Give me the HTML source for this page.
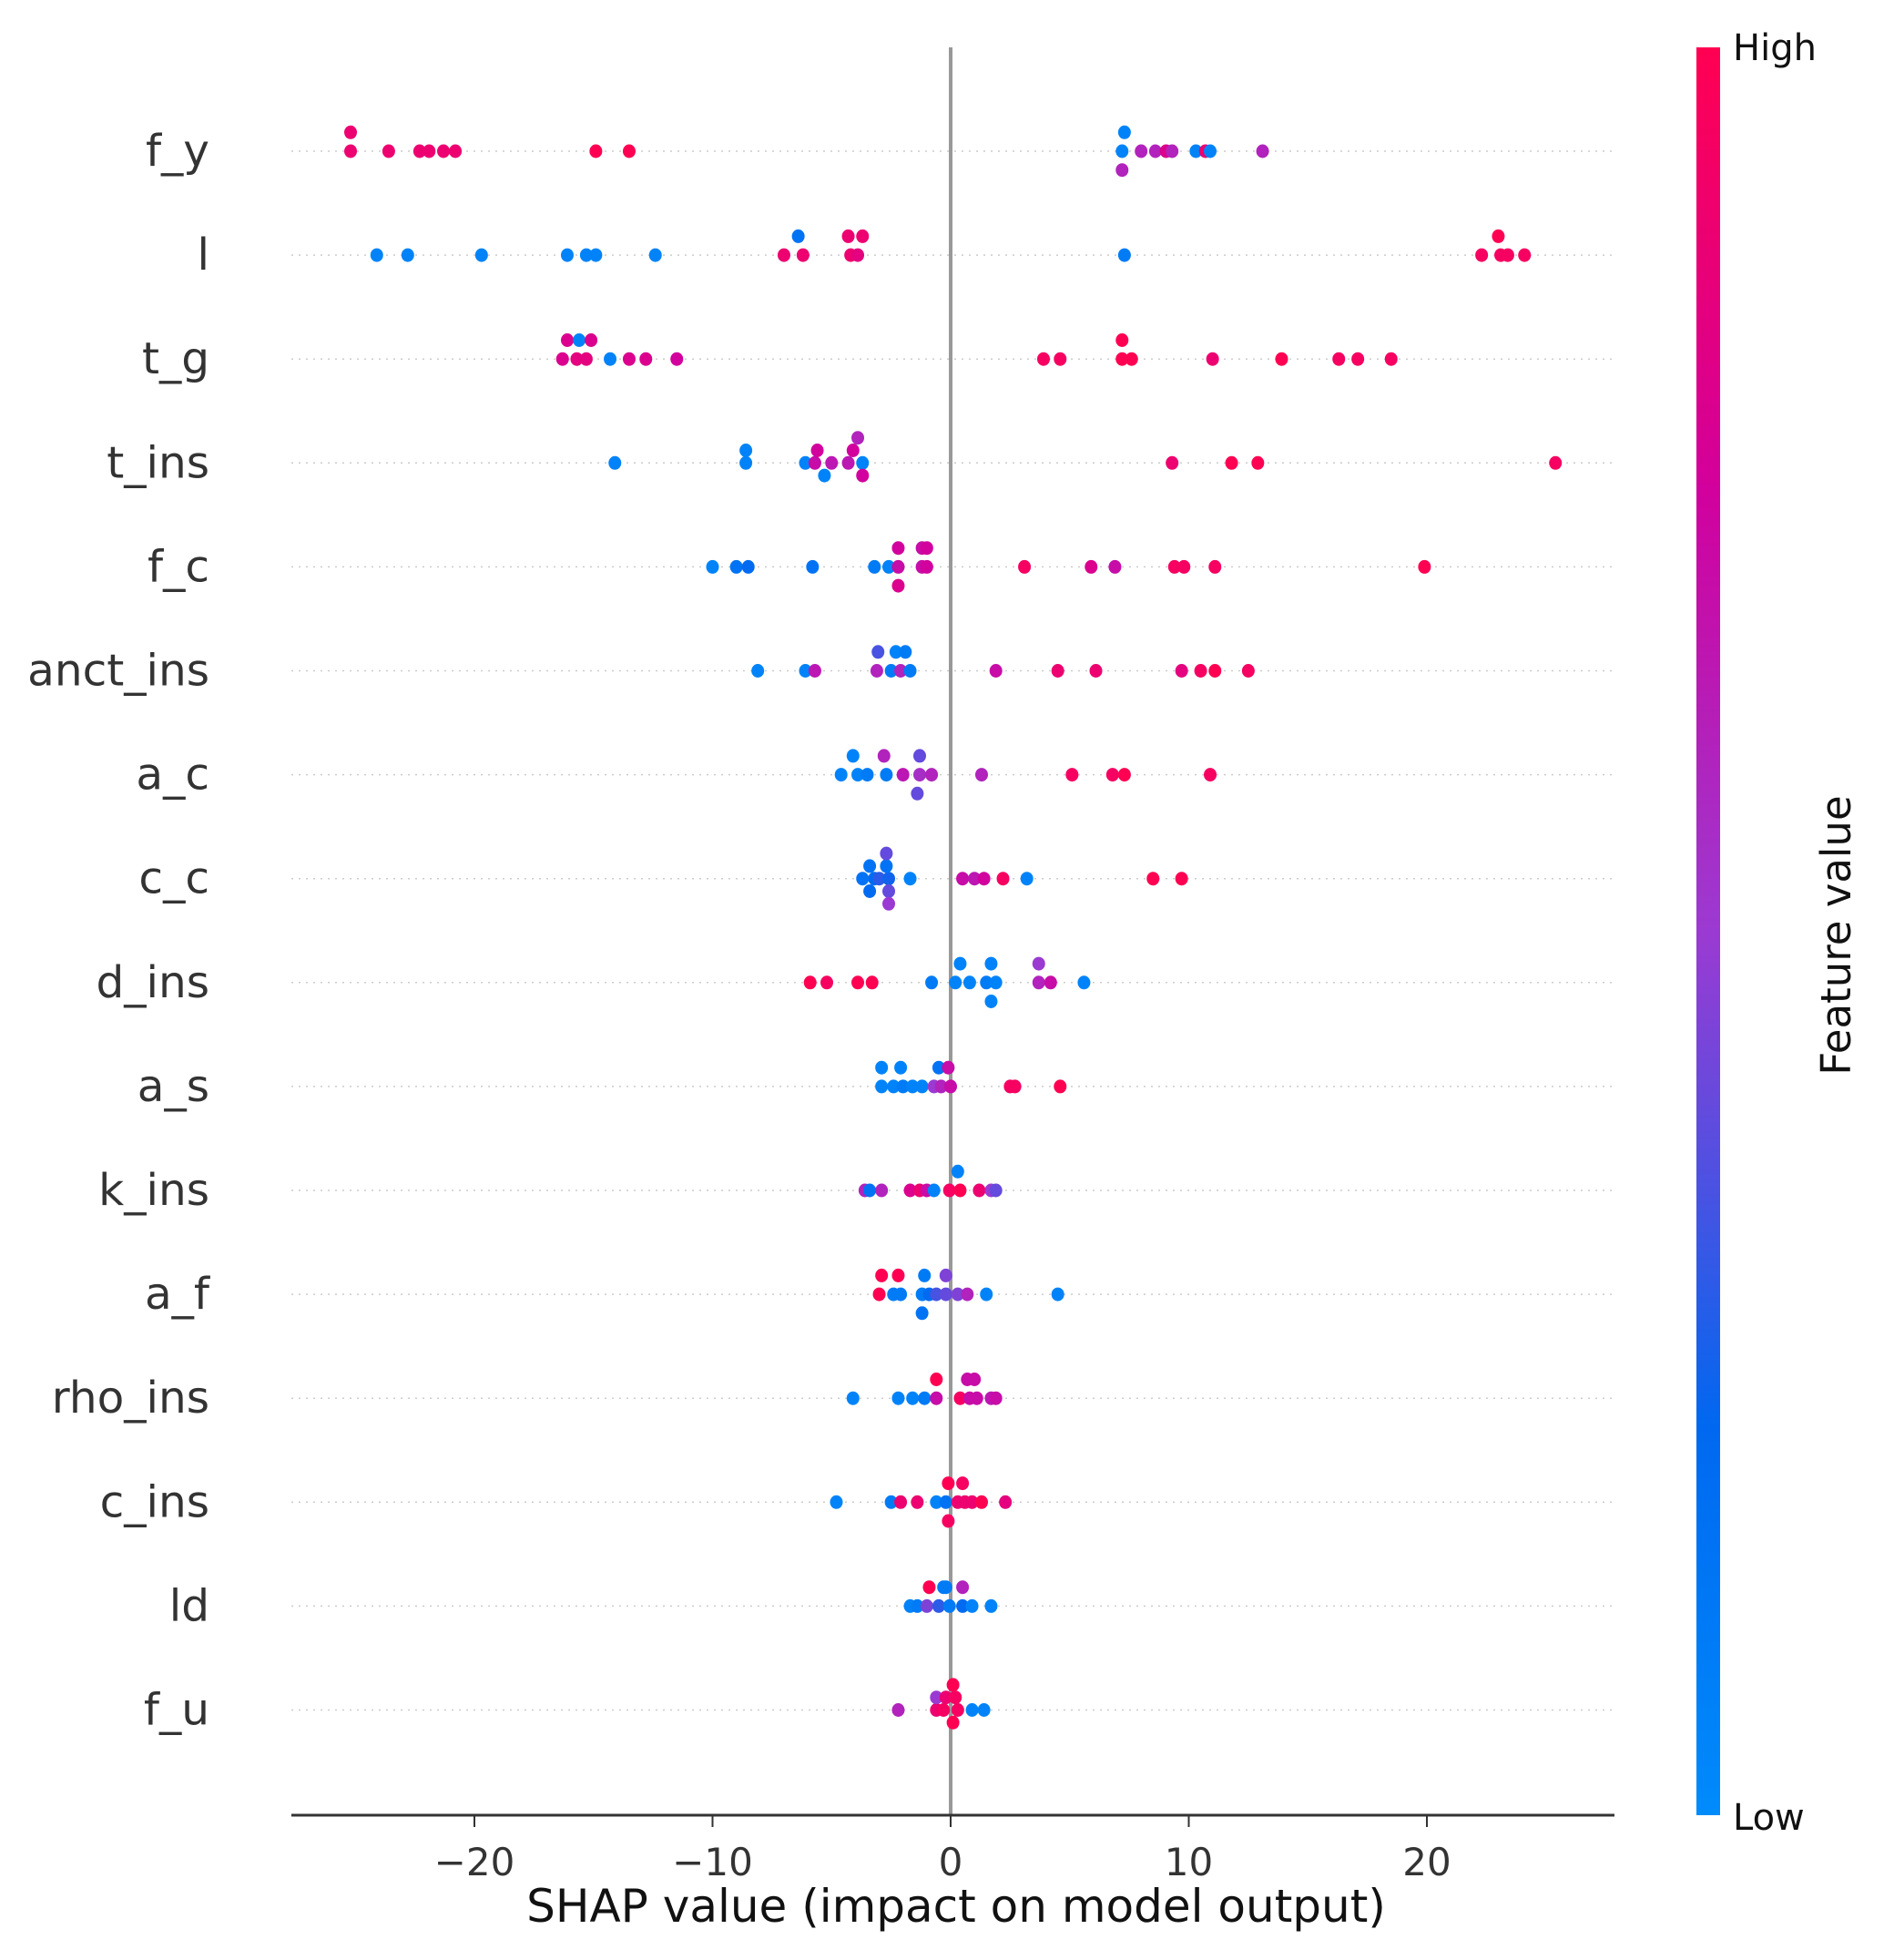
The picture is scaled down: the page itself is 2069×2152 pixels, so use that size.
<!DOCTYPE html>
<html><head><meta charset="utf-8"><style>
html,body{margin:0;padding:0;background:#fff;}
svg{display:block;font-family:"DejaVu Sans","Liberation Sans",sans-serif;}
</style></head><body>
<svg id="chart" width="2069" height="2152" viewBox="0 0 2069 2152">
<defs><linearGradient id="cb" x1="0" y1="1" x2="0" y2="0">
<stop offset="0" stop-color="#008bfb"/><stop offset="0.22" stop-color="#0068f0"/><stop offset="0.5" stop-color="#9b3ad2"/><stop offset="0.75" stop-color="#d2009c"/><stop offset="1" stop-color="#ff0052"/></linearGradient></defs>
<g id="grid"></g>
<line x1="1044" y1="52" x2="1044" y2="1993" stroke="#999" stroke-width="4"/>
<g id="dots"></g>
<g id="labels"></g>
<line x1="320" y1="1993" x2="1773" y2="1993" stroke="#333" stroke-width="3"/>
<g id="xticks"></g>
<text x="1050" y="2110" font-size="50" text-anchor="middle" fill="#111">SHAP value (impact on model output)</text>
<rect x="1863" y="52" width="26" height="1941" fill="url(#cb)"/>
<text x="1903" y="66" font-size="40" fill="#111">High</text>
<text x="1903" y="2009" font-size="40" fill="#111">Low</text>
<text x="0" y="0" font-size="45" fill="#111" text-anchor="middle" transform="translate(2032,1027) rotate(-90)">Feature value</text>
</svg>
<script>
const features = ["f_y","l","t_g","t_ins","f_c","anct_ins","a_c","c_c","d_ins","a_s","k_ins","a_f","rho_ins","c_ins","ld","f_u"];
const xTicks = [-20,-10,0,10,20];
// points per feature: [shap value, stack level, feature value 0..1]
const pts_f_y = [[-25.2,-1.5,.9],[7.3,-1.5,.05],[-25.2,0,.9],[-23.6,0,.9],[-22.3,0,.9],[-21.9,0,.9],[-21.3,0,.9],[-20.8,0,.9],[-14.9,0,1],[-13.5,0,1],[7.2,0,.05],[8.0,0,.6],[8.6,0,.6],[9.05,0,.8],[9.3,0,.6],[10.3,0,.05],[10.7,0,.9],[10.9,0,.05],[13.1,0,.6],[7.2,1.5,.6]];
const pts_l = [[-24.1,0,.05],[-22.8,0,.05],[-19.7,0,.05],[-16.1,0,.05],[-15.3,0,.05],[-14.9,0,.05],[-12.4,0,.05],[-7.0,0,.9],[-6.2,0,.9],[-4.2,0,.9],[-3.9,0,.85],[7.3,0,.1],[22.3,0,.95],[23.1,0,.95],[23.4,0,.95],[24.1,0,.95],[-6.4,-1.5,.15],[-4.3,-1.5,.9],[-3.7,-1.5,.9],[23.0,-1.5,1]];
const pts_t_g = [[-16.3,0,.8],[-15.7,0,.85],[-15.3,0,.85],[-14.3,0,.05],[-13.5,0,.8],[-12.8,0,.8],[-11.5,0,.75],[3.9,0,.95],[4.6,0,.95],[7.2,0,1],[7.6,0,1],[11.0,0,.9],[13.9,0,1],[16.3,0,.95],[17.1,0,.95],[18.5,0,.95],[-16.1,-1.5,.8],[-15.6,-1.5,.05],[-15.1,-1.5,.8],[7.2,-1.5,1]];
const pts_t_ins = [[-14.1,0,.05],[-8.6,0,.05],[-6.1,0,.05],[-5.7,0,.7],[-5.0,0,.65],[-4.3,0,.65],[-3.7,0,.05],[9.3,0,.9],[11.8,0,1],[12.9,0,1],[25.4,0,.95],[-8.6,-1,.05],[-5.6,-1,.75],[-4.1,-1,.75],[-3.9,-2,.6],[-5.3,1,.05],[-3.7,1,.75]];
const pts_f_c = [[-10.0,0,.05],[-9.0,0,.15],[-8.5,0,.2],[-5.8,0,.15],[-3.2,0,.1],[-2.6,0,.05],[-2.2,0,.7],[-1.2,0,.7],[-1.0,0,.75],[3.1,0,.95],[5.9,0,.8],[6.9,0,.7],[9.4,0,.95],[9.8,0,.95],[11.1,0,.95],[19.9,0,1],[-2.2,-1.5,.75],[-1.2,-1.5,.7],[-1.0,-1.5,.75],[-2.2,1.5,.8]];
const pts_anct_ins = [[-8.1,0,.05],[-6.1,0,.05],[-5.7,0,.65],[-3.1,0,.6],[-2.5,0,.1],[-2.1,0,.6],[-1.7,0,.1],[1.9,0,.7],[4.5,0,.9],[6.1,0,.9],[9.7,0,.85],[10.5,0,.95],[11.1,0,1],[12.5,0,.95],[-3.05,-1.5,.35],[-2.3,-1.5,.05],[-1.9,-1.5,.1]];
const pts_a_c = [[-4.6,0,.05],[-3.9,0,.05],[-3.5,0,.1],[-2.7,0,.1],[-2.0,0,.65],[-1.3,0,.55],[-0.8,0,.6],[1.3,0,.6],[5.1,0,.95],[6.8,0,.95],[7.3,0,1],[10.9,0,.95],[-4.1,-1.5,.05],[-2.8,-1.5,.6],[-1.3,-1.5,.4],[-1.4,1.5,.4]];
const pts_c_c = [[-3.7,0,.15],[-3.2,0,.2],[-3.0,0,.3],[-2.6,0,.25],[-1.7,0,.05],[0.5,0,.7],[1.0,0,.65],[1.4,0,.75],[2.2,0,.95],[3.2,0,.05],[8.5,0,1],[9.7,0,1],[-3.4,-1,.15],[-2.7,-1,.15],[-2.7,-2,.4],[-3.4,1,.2],[-2.6,1,.4],[-2.6,2,.5]];
const pts_d_ins = [[-5.9,0,1],[-5.2,0,.95],[-3.9,0,1],[-3.3,0,1],[-0.8,0,.1],[0.2,0,.05],[0.8,0,.05],[1.5,0,.1],[1.9,0,.05],[3.7,0,.6],[4.2,0,.7],[5.6,0,.05],[0.4,-1.5,.05],[1.7,-1.5,.05],[3.7,-1.5,.5],[1.7,1.5,.05]];
const pts_a_s = [[-2.9,0,.05],[-2.4,0,.05],[-2.0,0,.1],[-1.6,0,.05],[-1.2,0,.05],[-0.7,0,.5],[-0.4,0,.6],[0,0,.7],[2.5,0,.95],[2.7,0,.95],[4.6,0,1],[-2.9,-1.5,.05],[-2.1,-1.5,.05],[-0.5,-1.5,.15],[-0.1,-1.5,.7]];
const pts_k_ins = [[-3.6,0,.6],[-3.4,0,.15],[-2.9,0,.6],[-1.7,0,.8],[-1.3,0,.9],[-1.0,0,.7],[-0.7,0,.05],[-0.05,0,.95],[0.4,0,1],[1.2,0,.9],[1.7,0,.5],[1.9,0,.4],[0.3,-1.5,.05]];
const pts_a_f = [[-3.0,0,1],[-2.4,0,.1],[-2.1,0,.1],[-1.2,0,.1],[-0.9,0,.2],[-0.6,0,.35],[-0.2,0,.4],[0.3,0,.45],[0.7,0,.6],[1.5,0,.05],[4.5,0,.05],[-2.9,-1.5,1],[-2.2,-1.5,1],[-1.1,-1.5,.1],[-0.2,-1.5,.45],[-1.2,1.5,.15]];
const pts_rho_ins = [[-4.1,0,.05],[-2.2,0,.05],[-1.6,0,.05],[-1.1,0,.1],[-0.6,0,.7],[0.4,0,.95],[0.8,0,.7],[1.1,0,.7],[1.7,0,.65],[1.9,0,.7],[-0.6,-1.5,1],[0.7,-1.5,.7],[1.0,-1.5,.7]];
const pts_c_ins = [[-4.8,0,.05],[-2.5,0,.1],[-2.1,0,.9],[-1.4,0,.9],[-0.6,0,.05],[-0.2,0,.15],[0.3,0,.9],[0.6,0,.9],[0.9,0,.9],[1.3,0,1],[2.3,0,.85],[-0.1,-1.5,1],[0.5,-1.5,.95],[-0.1,1.5,.95]];
const pts_ld = [[-1.7,0,.05],[-1.4,0,.1],[-1.0,0,.45],[-0.5,0,.3],[-0.05,0,.1],[0.5,0,.2],[0.9,0,.05],[1.7,0,.05],[-0.9,-1.5,1],[-0.3,-1.5,.1],[-0.2,-1.5,.1],[0.5,-1.5,.6]];
const pts_f_u = [[-2.2,0,.6],[-0.6,0,.9],[-0.3,0,.95],[0.3,0,.95],[0.9,0,.05],[1.4,0,.05],[-0.6,-1,.5],[-0.2,-1,.9],[0.2,-1,.95],[0.1,-2,1],[0.1,1,1]];
const allPts = [pts_f_y,pts_l,pts_t_g,pts_t_ins,pts_f_c,pts_anct_ins,pts_a_c,pts_c_c,pts_d_ins,pts_a_s,pts_k_ins,pts_a_f,pts_rho_ins,pts_c_ins,pts_ld,pts_f_u];

const NS="http://www.w3.org/2000/svg";
function xScale(v){return 1044+v*26.15;}
function yRow(i){return 166+i*114.1;}
const stops=[[0,[0,139,251]],[0.22,[0,104,240]],[0.5,[155,58,210]],[0.75,[210,0,156]],[1,[255,0,82]]];
function color(t){for(let k=1;k<stops.length;k++){if(t<=stops[k][0]){const a=stops[k-1],b=stops[k];const f=(t-a[0])/(b[0]-a[0]);const c=a[1].map((v,j)=>Math.round(v+(b[1][j]-v)*f));return `rgb(${c.join(',')})`;}}return 'rgb(255,0,82)';}
const grid=document.getElementById('grid'),dots=document.getElementById('dots'),labels=document.getElementById('labels'),xt=document.getElementById('xticks');
features.forEach((f,i)=>{
  const y=yRow(i);
  const ln=document.createElementNS(NS,'line');
  ln.setAttribute('x1',320);ln.setAttribute('x2',1773);ln.setAttribute('y1',y);ln.setAttribute('y2',y);
  ln.setAttribute('stroke','#ccc');ln.setAttribute('stroke-width',1.5);ln.setAttribute('stroke-dasharray','2 6');
  
  
  grid.appendChild(ln);
  const t=document.createElementNS(NS,'text');
  t.setAttribute('x',230);t.setAttribute('y',y+16);t.setAttribute('text-anchor','end');t.setAttribute('font-size',48.5);t.setAttribute('fill','#333');
  t.textContent=f;
  
  
  labels.appendChild(t);
  allPts[i].forEach(p=>{
    const c=document.createElementNS(NS,'ellipse');
    c.setAttribute('cx',xScale(p[0]));c.setAttribute('cy',y+p[1]*13.8);
    c.setAttribute('rx',7);c.setAttribute('ry',7.5);c.setAttribute('fill',color(p[2]));
    
    
    dots.appendChild(c);
  });
});
xTicks.forEach(v=>{
  const x=xScale(v);
  const l=document.createElementNS(NS,'line');
  l.setAttribute('x1',x);l.setAttribute('x2',x);l.setAttribute('y1',1993);l.setAttribute('y2',2006);l.setAttribute('stroke','#333');l.setAttribute('stroke-width',2);
  
  
  xt.appendChild(l);
  const t=document.createElementNS(NS,'text');
  t.setAttribute('x',x);t.setAttribute('y',2059);t.setAttribute('text-anchor','middle');t.setAttribute('font-size',42);t.setAttribute('fill','#333');
  t.textContent=v<0?'\u2212'+Math.abs(v):String(v);
  
  
  xt.appendChild(t);
});
</script>
</body></html>
